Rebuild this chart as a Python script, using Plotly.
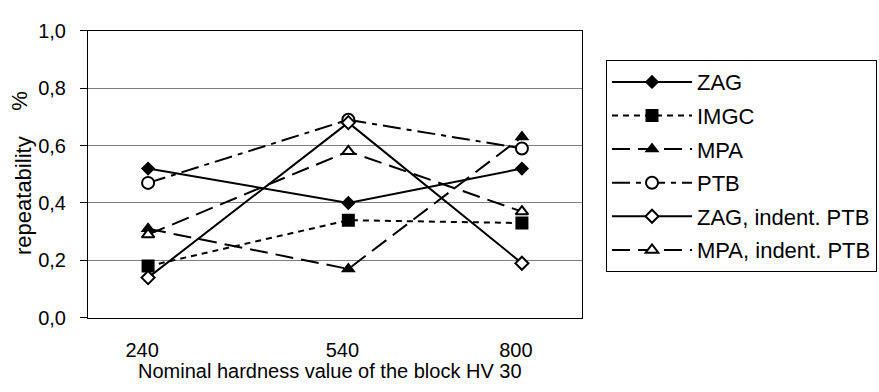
import plotly.graph_objects as go

# ---- data ----
hardness = [240, 540, 800]
x_ticks = [240, 540, 800]
x_ticktext = ["240", "540", "800"]
y_ticks = [0.0, 0.2, 0.4, 0.6, 0.8, 1.0]
y_ticktext = ["0,0", "0,2", "0,4", "0,6", "0,8", "1,0"]

zag = [0.52, 0.40, 0.52]
imgc = [0.18, 0.34, 0.33]
mpa = [0.31, 0.17, 0.63]
ptb = [0.47, 0.69, 0.59]
zag_ind = [0.14, 0.68, 0.19]
mpa_ind = [0.29, 0.58, 0.37]

series_names = ["ZAG", "IMGC", "MPA", "PTB", "ZAG, indent. PTB", "MPA, indent. PTB"]
series_values = [zag, imgc, mpa, ptb, zag_ind, mpa_ind]

# ---- styles ----
styles = [
    dict(dash="solid", symbol="diamond", size=11, fill="black"),
    dict(dash="6px,5px", symbol="square", size=13, fill="black"),
    dict(dash="18px,8px", symbol="triangle-up", size=13, fill="black"),
    dict(dash="18px,6px,5px,6px", symbol="circle", size=12, fill="white"),
    dict(dash="solid", symbol="diamond", size=10, fill="white"),
    dict(dash="18px,8px", symbol="triangle-up", size=11, fill="white"),
]

FONT = "Arial, Liberation Sans, sans-serif"
W, H = 879, 392
left, right, top, bottom = 88, 582, 21, 325

fig = go.Figure()
for i, (name, vals, st) in enumerate(zip(series_names, series_values, styles)):
    fig.add_trace(go.Scatter(
        x=hardness, y=vals, name=name, mode="lines+markers",
        legendgroup=f"g{i}",
        line=dict(color="black", width=2, dash=st["dash"]),
        marker=dict(symbol=st["symbol"], size=st["size"], color=st["fill"],
                    line=dict(color="black", width=2 if st["fill"] == "white" else 0)),
    ))

fig.update_layout(
    width=W, height=H,
    margin=dict(l=0, r=0, t=0, b=0),
    paper_bgcolor="white", plot_bgcolor="white",
    font=dict(family=FONT, size=20, color="black"),
    showlegend=True,
    legend=dict(
        x=606 / W, y=1 - 52 / H, xanchor="left", yanchor="top",
        bordercolor="black", borderwidth=1, bgcolor="white",
        font=dict(size=22), traceorder="grouped", tracegroupgap=2,
        itemwidth=80,
    ),
    xaxis=dict(
        domain=[left / W, right / W], range=[150, 890],
        tickvals=x_ticks, ticktext=x_ticktext, ticks="",
        showgrid=False, zeroline=False,
        showline=True, mirror=True, linecolor="black", linewidth=1,
        ticklabelstandoff=14, ticklabelshift=-6,
    ),
    yaxis=dict(
        domain=[1 - bottom / H, 1 - top / H], range=[0, 1],
        tickvals=y_ticks, ticktext=y_ticktext,
        ticks="outside", ticklen=7, tickcolor="black", tickwidth=1,
        showgrid=True, gridcolor="#808080", gridwidth=1, zeroline=False,
        showline=True, mirror=True, linecolor="black", linewidth=1,
        ticklabelstandoff=10,
    ),
    annotations=[
        dict(text="Nominal hardness value of the block HV 30", xref="paper", yref="paper",
             x=330 / W, y=1 - 381 / H, xanchor="center", yanchor="middle",
             showarrow=False, font=dict(size=20)),
        dict(text="repeatability", xref="paper", yref="paper",
             x=23 / W, y=1 - 196 / H, xanchor="center", yanchor="middle",
             textangle=-90, showarrow=False, font=dict(size=22)),
        dict(text="%", xref="paper", yref="paper",
             x=20 / W, y=1 - 95 / H, xanchor="center", yanchor="middle",
             textangle=-90, showarrow=False, font=dict(size=22)),
    ],
)

fig.write_html("out.html")
